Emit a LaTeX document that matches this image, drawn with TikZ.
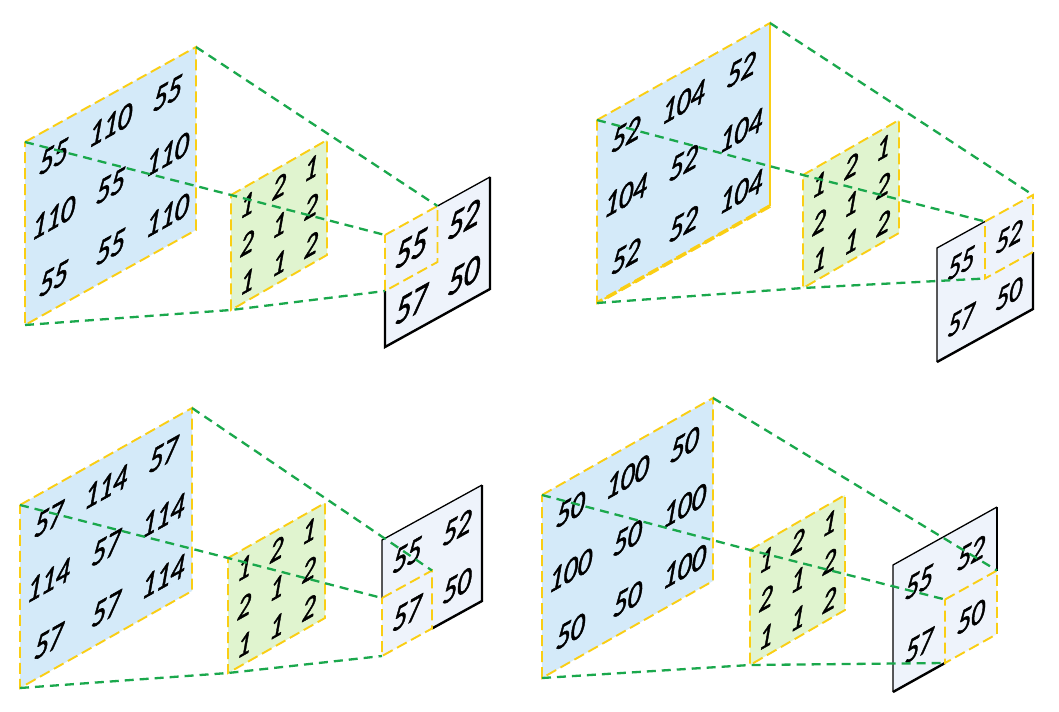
\documentclass[tikz,border=0pt]{standalone}
\usepackage{fontspec}
\setmainfont{Carlito}
\newfontfamily\numfont{Carlito}[FakeBold=1.6]
\usetikzlibrary{calc}
\definecolor{inblue}{RGB}{212,234,249}
\definecolor{kgreen}{RGB}{224,244,207}
\definecolor{outfill}{RGB}{238,243,251}
\definecolor{ydash}{RGB}{250,206,20}
\definecolor{gline}{RGB}{26,168,76}
\tikzset{
  ydashed/.style={draw=ydash, line width=1.9bp, dash pattern=on 11bp off 5bp},
  gdashed/.style={draw=gline, line width=2.3bp, dash pattern=on 9bp off 6bp},
  thinb/.style={draw=black, line width=1.3bp},
  thickb/.style={draw=black, line width=2.4bp, line join=miter},
  numbase/.style={inner sep=0pt, cm={1,0.56,0.12,1.3,(0,0)}},
  numin/.style={numbase, font=\fontsize{28bp}{28bp}\numfont\itshape},
  numk/.style={numbase, font=\fontsize{26bp}{26bp}\numfont\itshape},
  numo/.style={numbase, font=\fontsize{#1bp}{#1bp}\numfont\itshape},
}
\newcommand\plane[6]{%
  \coordinate (#1-TL) at (#2,#3);
  \coordinate (#1-TR) at ({#2+#4},{#3-#5});
  \coordinate (#1-BR) at ({#2+#4},{#3-#5+#6});
  \coordinate (#1-BL) at (#2,{#3+#6});
  \coordinate (#1-TM) at ({#2+#4/2},{#3-#5/2});
  \coordinate (#1-BM) at ({#2+#4/2},{#3-#5/2+#6});
  \coordinate (#1-LM) at (#2,{#3+#6/2});
  \coordinate (#1-RM) at ({#2+#4},{#3-#5+#6/2});
  \coordinate (#1-C) at ({#2+#4/2},{#3-#5/2+#6/2});
}
\newcommand\nums[9]{%
  \foreach \val [count=\k from 0] in {#9} {
    \pgfmathtruncatemacro\ci{mod(\k,#7)}
    \pgfmathtruncatemacro\cj{(\k-\ci)/#7}
    \node[#8] (#1-n\k) at ({#2+(\ci+0.5)/#7*#4},{#3-(\ci+0.5)/#7*#5+(\cj+0.5)/#7*#6}) {\val};
  }}
\newcommand\quadpath[1]{(#1-TL)--(#1-TR)--(#1-BR)--(#1-BL)--cycle}
\begin{document}
\begin{tikzpicture}[x=1bp,y=-1bp]
\useasboundingbox[fill=white] (0,0) rectangle (1059,712);

% ---------------- Panel 1 (top left)
\plane{a-in}{25}{142}{171}{95}{183}
\plane{a-k}{231}{195}{96}{55}{115}
\plane{a-o}{385}{235}{105}{58}{112}
\fill[inblue] \quadpath{a-in};
\fill[kgreen] \quadpath{a-k};
\fill[outfill] \quadpath{a-o};
\nums{a-in}{25}{142}{171}{95}{183}{3}{numin}{55,110,55,110,55,110,55,55,110}
\nums{a-k}{231}{195}{96}{55}{115}{3}{numk}{1,2,1,2,1,2,1,1,2}
\nums{a-o}{385}{235}{105}{58}{112}{2}{numo=31}{55,52,57,50}
\draw[ydashed] \quadpath{a-in};
\draw[ydashed] \quadpath{a-k};
\draw[thinb] (a-o-TM)--(a-o-TR);
\draw[thickb] (a-o-TR)--(a-o-BR)--(a-o-BL)--(a-o-LM);
\draw[ydashed] (a-o-TL)--(a-o-TM)--(a-o-C)--(a-o-LM)--cycle;
\draw[gdashed] (a-in-TR)--(a-o-TM);
\draw[gdashed] (a-in-TL)--(a-k-TL)--(a-o-TL);
\draw[gdashed] (a-in-BL)--(a-k-BL)--(a-o-LM);

% ---------------- Panel 2 (top right)
\plane{b-in}{597}{120}{173}{97}{183}
\plane{b-k}{803}{175}{96}{55}{113}
\plane{b-o}{937}{248}{96}{53}{114}
\fill[inblue] \quadpath{b-in};
\fill[kgreen] \quadpath{b-k};
\fill[outfill] \quadpath{b-o};
\nums{b-in}{597}{120}{173}{97}{183}{3}{numin}{52,104,52,104,52,104,52,52,104}
\nums{b-k}{803}{175}{96}{55}{113}{3}{numk}{1,2,1,2,1,2,1,1,2}
\nums{b-o}{937}{248}{96}{53}{114}{2}{numo=26}{55,52,57,50}
\draw[ydashed] \quadpath{b-in};
\draw[ydashed, line width=3.6bp] (b-in-BR)--(b-in-BL);
\draw[ydashed, line width=2.6bp] (b-in-TR)--(b-in-BR);
\draw[ydashed] \quadpath{b-k};
\draw[thinb] (b-o-TM)--(b-o-TL)--(b-o-BL);
\draw[thickb] (b-o-BL)--(b-o-BR)--(b-o-RM);
\draw[ydashed] (b-o-TM)--(b-o-TR)--(b-o-RM)--(b-o-C)--cycle;
\draw[gdashed] (b-in-TR)--(b-o-TR);
\draw[gdashed] (b-in-TL)--(b-k-TL)--(b-o-TM);
\draw[gdashed] (b-in-BL)--(b-k-BL)--(b-o-C);

% ---------------- Panel 3 (bottom left)
\plane{c-in}{20}{505}{172}{97}{183}
\plane{c-k}{228}{558}{97}{55}{115}
\plane{c-o}{382}{540}{100}{55}{116}
\fill[inblue] \quadpath{c-in};
\fill[kgreen] \quadpath{c-k};
\fill[outfill] \quadpath{c-o};
\nums{c-in}{20}{505}{172}{97}{183}{3}{numin}{57,114,57,114,57,114,57,57,114}
\nums{c-k}{228}{558}{97}{55}{115}{3}{numk}{1,2,1,2,1,2,1,1,2}
\nums{c-o}{382}{540}{100}{55}{116}{2}{numo=28}{55,52,57,50}
\draw[ydashed] \quadpath{c-in};
\draw[ydashed] \quadpath{c-k};
\draw[thinb] (c-o-LM)--(c-o-TL)--(c-o-TR);
\draw[thickb] (c-o-TR)--(c-o-BR)--(c-o-BM);
\draw[ydashed] (c-o-LM)--(c-o-C)--(c-o-BM)--(c-o-BL)--cycle;
\draw[gdashed] (c-in-TR)--(c-o-C);
\draw[gdashed] (c-in-TL)--(c-k-TL)--(c-o-LM);
\draw[gdashed] (c-in-BL)--(c-k-BL)--(c-o-BL);

% ---------------- Panel 4 (bottom right)
\plane{d-in}{542}{495}{171}{97}{183}
\plane{d-k}{750}{550}{95}{55}{115}
\plane{d-o}{893}{565}{104}{58}{127}
\fill[inblue] \quadpath{d-in};
\fill[kgreen] \quadpath{d-k};
\fill[outfill] \quadpath{d-o};
\nums{d-in}{542}{495}{171}{97}{183}{3}{numin}{50,100,50,100,50,100,50,50,100}
\nums{d-k}{750}{550}{95}{55}{115}{3}{numk}{1,2,1,2,1,2,1,1,2}
\nums{d-o}{893}{565}{104}{58}{127}{2}{numo=27}{55,52,57,50}
\draw[ydashed] \quadpath{d-in};
\draw[ydashed] \quadpath{d-k};
\draw[thinb] (d-o-BL)--(d-o-TL)--(d-o-TR);
\draw[thickb] (d-o-TR)--(d-o-RM);
\draw[thickb] (d-o-BL)--(d-o-BM);
\draw[ydashed] (d-o-C)--(d-o-RM)--(d-o-BR)--(d-o-BM)--cycle;
\draw[gdashed] (d-in-TR)--(d-o-RM);
\draw[gdashed] (d-in-TL)--(d-k-TL)--(d-o-C);
\draw[gdashed] (d-in-BL)--(d-k-BL)--(d-o-BM);
\end{tikzpicture}
\end{document}
